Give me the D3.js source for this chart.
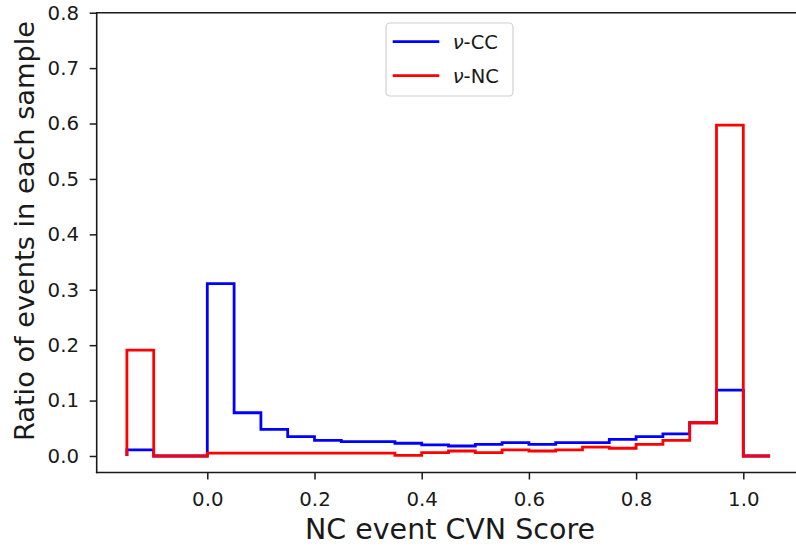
<!DOCTYPE html>
<html><head><meta charset="utf-8">
<script src="https://cdn.jsdelivr.net/npm/d3@7"></script>
<style>body{margin:0;background:#fff}svg{display:block}text{font-family:"DejaVu Sans",sans-serif}</style>
</head><body><svg id="c" width="796" height="546"></svg>
<script>
const binEdges = [-0.15,-0.10,-0.05,0.00,0.05,0.10,0.15,0.20,0.25,0.30,0.35,0.40,0.45,0.50,0.55,0.60,0.65,0.70,0.75,0.80,0.85,0.90,0.95,1.00,1.05];
const ccValues = [0.011,0,0,0.311,0.078,0.048,0.035,0.028,0.026,0.026,0.023,0.020,0.018,0.021,0.024,0.021,0.024,0.024,0.030,0.035,0.040,0.060,0.119,0];
const ncValues = [0.191,0,0,0.005,0.005,0.005,0.005,0.005,0.005,0.005,0.001,0.006,0.009,0.006,0.011,0.009,0.011,0.016,0.014,0.021,0.028,0.060,0.597,0];
const xTicks = [0.0,0.2,0.4,0.6,0.8,1.0];
const yTicks = [0.0,0.1,0.2,0.3,0.4,0.5,0.6,0.7,0.8];
const seriesNames = ["CC","NC"];
const seriesColors = ["#0000ff","#ff0000"];

const svg = d3.select("#c");
const x = d3.scaleLinear().domain([0,1]).range([207.3,743.3]);
const xmin = x.invert(96.7), xmax = x.invert(802);
const ymin = -0.0298, ymax = 0.8;
const y = d3.scaleLinear().domain([ymin,ymax]).range([472.5,12.7]);

svg.append("clipPath").attr("id","clp").append("rect")
  .attr("x",x(xmin)).attr("y",y(ymax)).attr("width",x(xmax)-x(xmin)).attr("height",y(ymin)-y(ymax));

function stepPts(vals){
  const p=[[binEdges[0],0]];
  vals.forEach((v,i)=>{p.push([binEdges[i],v]);p.push([binEdges[i+1],v]);});
  p.push([binEdges[binEdges.length-1],0]);
  return p;
}
const line = d3.line().x(d=>x(d[0])).y(d=>y(d[1]));
const g = svg.append("g").attr("clip-path","url(#clp)");
[ccValues,ncValues].forEach((vals,i)=>{
  g.append("path").attr("d",line(stepPts(vals))).attr("fill","none")
   .attr("stroke",seriesColors[i]).attr("stroke-width",2.8).attr("stroke-linejoin","miter");
});

// axes
const xAxis = d3.axisBottom(x).tickValues(xTicks).tickFormat(d3.format(".1f")).tickSize(7).tickPadding(12.5);
const yAxis = d3.axisLeft(y).tickValues(yTicks).tickFormat(d3.format(".1f")).tickSize(7).tickPadding(10.7);
const gx = svg.append("g").attr("transform",`translate(0,${y(ymin)})`).call(xAxis);
const gy = svg.append("g").attr("transform",`translate(${x(xmin)},0)`).call(yAxis);
[gx,gy].forEach(a=>{
  a.select(".domain").remove();
  a.selectAll("text").attr("font-size",19.8).attr("fill","#1a1a1a").attr("font-family","DejaVu Sans");
  a.selectAll("line").attr("stroke","#1a1a1a").attr("stroke-width",1.5);
});
gx.selectAll("text").attr("dy","0.71em");
// spines
const sp = [[xmin,ymin,xmin,ymax],[xmin,ymin,xmax,ymin],[xmin,ymax,xmax,ymax]];
sp.forEach(s=>svg.append("line").attr("x1",x(s[0])).attr("y1",y(s[1])).attr("x2",x(s[2])).attr("y2",y(s[3]))
  .attr("stroke","#1a1a1a").attr("stroke-width",1.6).attr("stroke-linecap","square"));

// labels
svg.append("text").attr("x",450).attr("y",539).attr("text-anchor","middle").attr("font-size",28.5).attr("fill","#1a1a1a").text("NC event CVN Score");
svg.append("text").attr("transform","translate(33.5,231) rotate(-90)").attr("text-anchor","middle").attr("font-size",27.2).attr("fill","#1a1a1a").text("Ratio of events in each sample");

// legend
const lg = svg.append("g");
lg.append("rect").attr("x",386).attr("y",23).attr("width",127).attr("height",73).attr("rx",4)
  .attr("fill","#fff").attr("fill-opacity",0.8).attr("stroke","#d0d0d0").attr("stroke-width",1.2);
seriesNames.forEach((n,i)=>{
  const yy = 41.7 + i*34;
  lg.append("line").attr("x1",392.7).attr("x2",439.3).attr("y1",yy).attr("y2",yy).attr("stroke",seriesColors[i]).attr("stroke-width",2.8);
  const t = lg.append("text").attr("x",452.7).attr("y",yy+7.3).attr("font-size",19.5).attr("fill","#1a1a1a");
  t.append("tspan").attr("font-style","italic").text("ν");
  t.append("tspan").text("-"+n);
});
</script></body></html>
